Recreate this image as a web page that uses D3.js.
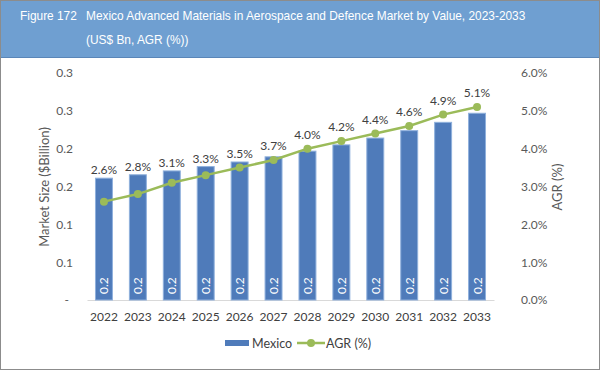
<!DOCTYPE html>
<html>
<head>
<meta charset="utf-8">
<script src="https://cdn.jsdelivr.net/npm/d3@7"></script>
<style>
  body { margin: 0; background: #fff; }
  svg { display: block; }
</style>
</head>
<body>
<svg width="600" height="370"></svg>
<script>
const years = ['2022', '2023', '2024', '2025', '2026', '2027', '2028', '2029', '2030', '2031', '2032', '2033'];
const mexico = [0.161, 0.1655, 0.1706, 0.1763, 0.1824, 0.1892, 0.1967, 0.205, 0.214, 0.2238, 0.2348, 0.2468];
const agr = [2.6, 2.8, 3.1, 3.3, 3.5, 3.7, 4.0, 4.2, 4.4, 4.6, 4.9, 5.1];
const leftTicks = [0, 0.05, 0.1, 0.15, 0.2, 0.25, 0.3];
const rightTicks = [0, 1, 2, 3, 4, 5, 6];

const font = 'Lato, "Open Sans", sans-serif';
const barColor = '#4f7bba';
const lineColor = '#9bbb59';

const svg = d3.select('svg');
const margin = {top: 73, left: 87, right: 106, bottom: 70};
const width = 600, height = 370;
const plotW = width - margin.left - margin.right;
const plotH = 300 - margin.top;

// header
svg.append('rect')
    .attr('x', 0).attr('y', 0)
    .attr('width', width).attr('height', 57)
    .style('fill', '#6f9fd1');
svg.append('line')
    .attr('x1', 0).attr('x2', width).attr('y1', 57.5).attr('y2', 57.5)
    .style('stroke', '#5a86b8');

const title = svg.append('g')
    .style('font-family', '"Liberation Sans", Arial, sans-serif')
    .style('font-size', '11.9px')
    .style('fill', '#fff');
title.append('text').attr('x', 20).attr('y', 20).text('Figure 172');
title.append('text').attr('x', 86).attr('y', 20)
    .text('Mexico Advanced Materials in Aerospace and Defence Market by Value, 2023-2033');
title.append('text').attr('x', 86).attr('y', 44).text('(US$ Bn, AGR (%))');

const g = svg.append('g')
    .attr('transform', `translate(${margin.left},${margin.top})`);

const x = d3.scaleBand().domain(years).range([0, plotW]).paddingInner(0.5).paddingOuter(0.25);
const y = d3.scaleLinear().domain([0, 0.3]).range([plotH, 0]);
const y2 = d3.scaleLinear().domain([0, 6]).range([plotH, 0]);

// left axis
const yAxis = g.append('g')
    .call(d3.axisLeft(y).tickValues(leftTicks).tickSize(0).tickPadding(14)
        .tickFormat(d => d === 0 ? '-' : d3.format('.1f')(d + 1e-9)));
yAxis.select('.domain').remove();
yAxis.selectAll('text')
    .style('font-family', font).style('font-size', '12px').style('fill', '#595959');
yAxis.selectAll('.tick').filter(d => d === 0).select('text').attr('dx', -4);

// right axis
const y2Axis = g.append('g')
    .attr('transform', `translate(${plotW},0)`)
    .call(d3.axisRight(y2).tickValues(rightTicks).tickSize(0).tickPadding(27)
        .tickFormat(d => d.toFixed(1) + '%'));
y2Axis.select('.domain').remove();
y2Axis.selectAll('text')
    .style('font-family', font).style('font-size', '12px').style('fill', '#595959');

// x axis
const xAxis = g.append('g')
    .attr('transform', `translate(0,${plotH})`)
    .call(d3.axisBottom(x).tickSize(0).tickPadding(12));
xAxis.select('.domain').style('stroke', '#d9d9d9');
xAxis.selectAll('text')
    .style('font-family', font).style('font-size', '12px').style('fill', '#404040');

// axis titles
svg.append('text')
    .attr('transform', `translate(49,187) rotate(-90)`)
    .style('text-anchor', 'middle')
    .style('font-family', font).style('font-size', '13px').style('fill', '#595959')
    .text('Market Size ($Billion)');
svg.append('text')
    .attr('transform', `translate(562,187) rotate(-90)`)
    .style('text-anchor', 'middle')
    .style('font-family', font).style('font-size', '13px').style('fill', '#595959')
    .text('AGR (%)');

// bars
g.selectAll('.bar')
    .data(mexico)
    .enter().append('rect')
    .attr('class', 'bar')
    .attr('x', (d, i) => x(years[i]))
    .attr('y', d => y(d))
    .attr('width', x.bandwidth())
    .attr('height', d => plotH - y(d))
    .style('fill', barColor)
    .style('stroke', '#8fb0dc')
    .style('stroke-width', 1);

// bar value labels
g.selectAll('.barlabel')
    .data(mexico)
    .enter().append('text')
    .attr('class', 'barlabel')
    .attr('transform', (d, i) => `translate(${x(years[i]) + x.bandwidth() / 2 + 4.5},${plotH - 6}) rotate(-90)`)
    .style('font-family', font).style('font-size', '12px').style('fill', '#fff')
    .text(d => d.toFixed(1));

// AGR line
const line = d3.line()
    .x((d, i) => x(years[i]) + x.bandwidth() / 2)
    .y(d => y2(d));
g.append('path')
    .datum(agr)
    .attr('d', line)
    .style('fill', 'none')
    .style('stroke', lineColor)
    .style('stroke-width', 2.5);
g.selectAll('.pt')
    .data(agr)
    .enter().append('circle')
    .attr('class', 'pt')
    .attr('cx', (d, i) => x(years[i]) + x.bandwidth() / 2)
    .attr('cy', d => y2(d))
    .attr('r', 4)
    .style('fill', lineColor);

// AGR labels
g.selectAll('.agrlabel')
    .data(agr)
    .enter().append('text')
    .attr('class', 'agrlabel')
    .attr('x', (d, i) => x(years[i]) + x.bandwidth() / 2)
    .attr('y', (d, i) => Math.min(y(mexico[i]) - 8, y2(d) - 14) + 4)
    .style('text-anchor', 'middle')
    .style('font-family', font).style('font-size', '12px').style('fill', '#404040')
    .text(d => d.toFixed(1) + '%');

// legend
const legend = svg.append('g')
    .style('font-family', font).style('font-size', '12.5px').style('fill', '#404040');
legend.append('rect')
    .attr('x', 225).attr('y', 340).attr('width', 24).attr('height', 6)
    .style('fill', barColor);
legend.append('text').attr('x', 252).attr('y', 347.5).text('Mexico');
legend.append('line')
    .attr('x1', 297).attr('x2', 325).attr('y1', 343).attr('y2', 343)
    .style('stroke', lineColor).style('stroke-width', 2.5);
legend.append('circle').attr('cx', 311).attr('cy', 343).attr('r', 4).style('fill', lineColor);
legend.append('text').attr('x', 326).attr('y', 347.5).text('AGR (%)');

// outer border
svg.append('rect')
    .attr('x', 0.5).attr('y', 0.5).attr('width', width - 1).attr('height', height - 1)
    .style('fill', 'none').style('stroke', '#8c8c8c');
</script>
</body>
</html>
